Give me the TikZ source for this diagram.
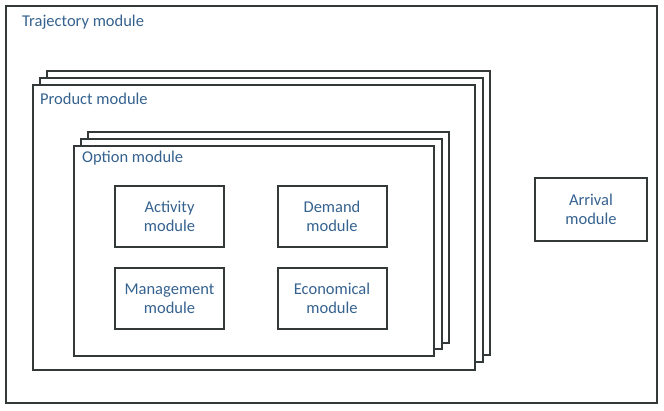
\documentclass[tikz,border=0pt]{standalone}
\usepackage{fontspec}
\setmainfont{Carlito}
\usepackage{xcolor}
\definecolor{modblue}{HTML}{35628F}
\definecolor{modline}{HTML}{333838}

\begin{document}
\begin{tikzpicture}
    [x=1pt,y=-1pt,
    frame/.style={draw=modline,line width=2pt,fill=white},
    title/.style={text=modblue,font=\fontsize{16.5}{19}\selectfont,anchor=west,inner sep=0pt},
    module/.style={frame,text=modblue,align=center,font=\fontsize{16.5}{19}\selectfont,
        minimum width=109pt,minimum height=61pt,inner sep=0pt}]
    \useasboundingbox (0,0) rectangle (664,410);
    %trajectory module
    \draw[frame] (6,6) rectangle (657,403);
    \node[title] (traj) at (22,22) {Trajectory module};
    %product module stack
    \draw[frame] (47,71) rectangle (490,355);
    \draw[frame] (40,78) rectangle (483,362);
    \draw[frame] (33,85) rectangle (475,370);
    \node[title] (prod) at (40,99) {Product module};
    %option module stack
    \draw[frame] (88,132) rectangle (449,343);
    \draw[frame] (81,139) rectangle (442,349);
    \draw[frame] (74,146) rectangle (434,356);
    \node[title] (opt) at (82,158) {Option module};
    %sub modules
    \node[module] (act) at (169.5,216.5) {Activity\\module};
    \node[module] (dem) at (332,216.5) {Demand\\module};
    \node[module] (man) at (169.5,298.5) {Management\\module};
    \node[module] (eco) at (332,298.5) {Economical\\module};
    %arrival module
    \node[module,minimum width=112pt,minimum height=63pt] (arr) at (591,209.5) {Arrival\\module};
\end{tikzpicture}
\end{document}
